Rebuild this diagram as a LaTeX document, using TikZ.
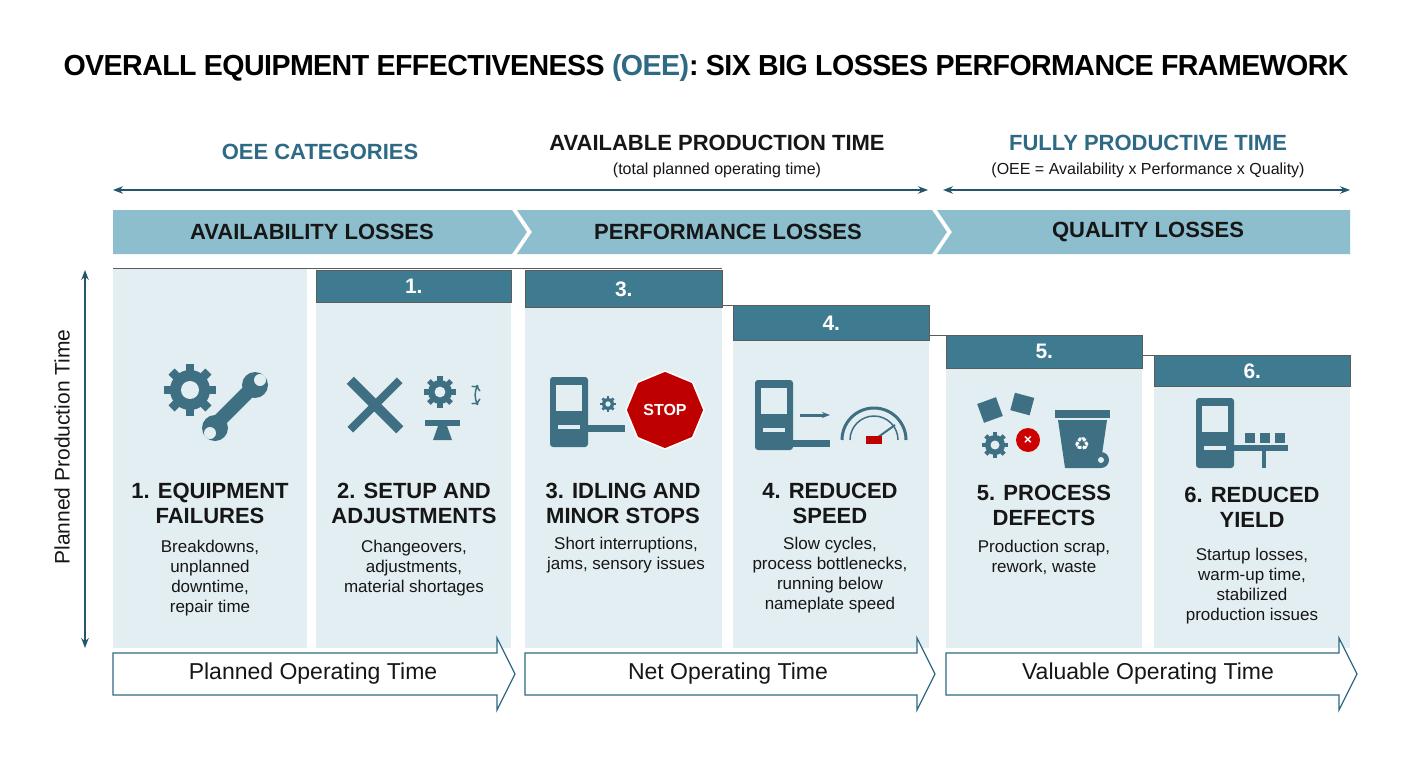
\documentclass[tikz,border=0pt]{standalone}
\usepackage{fontspec}
\setmainfont{Liberation Sans}
\usetikzlibrary{arrows.meta,shapes.geometric,shapes.arrows}
\definecolor{teal}{HTML}{2E6A85}
\definecolor{hdr}{HTML}{3E7A90}
\definecolor{ban}{HTML}{8CBECE}
\definecolor{colbg}{HTML}{E3EEF2}
\definecolor{ico}{HTML}{3F6F82}
\definecolor{txt}{HTML}{161616}
\tikzset{
 col/.style={fill=colbg,draw=none},
 hbox/.style={fill=hdr,draw=txt!70,line width=0.6pt,text=white,font=\bfseries\fontsize{21}{21}\selectfont},
 ttl/.style={align=center,font=\bfseries\fontsize{22}{25}\selectfont,text=txt},
 dsc/.style={align=center,font=\fontsize{17}{20}\selectfont,text=txt},
 bant/.style={font=\bfseries\fontsize{22}{22}\selectfont,text=txt},
 btm/.style={font=\fontsize{23}{23}\selectfont,text=txt},
 pics/gear/.style={code={
   \fill[ico] (0,0) circle (#1);
   \foreach \a in {0,45,...,315}{\fill[ico,rotate=\a] (-0.22*#1,0) rectangle (0.22*#1,1.3*#1);}
   \fill[colbg] (0,0) circle (0.45*#1);}},
 pics/machine/.style={code={
   \fill[ico,rounded corners=3] (0,0) rectangle (38,70);
   \fill[colbg] (6,8) rectangle (32,34);
   \fill[colbg] (8,48) rectangle (30,52);}}
}
\begin{document}
\begin{tikzpicture}[x=1pt,y=-1pt]
\useasboundingbox (0,0) rectangle (1408,768);
\fill[white] (0,0) rectangle (1408,768);
% title
\node (title) at (706,68) {\bfseries\fontsize{29}{29}\selectfont\addfontfeature{LetterSpace=-2}\scalebox{0.985}[1]{OVERALL EQUIPMENT EFFECTIVENESS \textcolor{teal}{(OEE)}: SIX BIG LOSSES PERFORMANCE FRAMEWORK}};
\node[font=\bfseries\fontsize{22}{22}\selectfont,text=teal] (cat) at (320,152) {OEE CATEGORIES};
\node[font=\bfseries\fontsize{22}{22}\selectfont,text=txt] (apt) at (717,143) {AVAILABLE PRODUCTION TIME};
\node[font=\fontsize{16}{16}\selectfont,text=txt] (apt2) at (717,170) {(total planned operating time)};
\node[font=\bfseries\fontsize{22}{22}\selectfont,text=teal] (fpt) at (1148,143) {FULLY PRODUCTIVE TIME};
\node[font=\fontsize{16}{16}\selectfont,text=txt] (fpt2) at (1148,170) {(OEE = Availability x Performance x Quality)};
\coordinate (a1) at (113,190); \coordinate (a2) at (928,190);
\coordinate (a3) at (943,190); \coordinate (a4) at (1350,190);
\draw[teal!80!black,line width=1.2pt,{Stealth[length=10pt]}-{Stealth[length=10pt]}] (a1) -- (a2);
\draw[teal!80!black,line width=1.2pt,{Stealth[length=10pt]}-{Stealth[length=10pt]}] (a3) -- (a4);
% banners
\fill[ban] (113,210) -- (512,210) -- (527,232) -- (512,254) -- (113,254) -- cycle;
\fill[ban] (517,210) -- (932,210) -- (947,232) -- (932,254) -- (517,254) -- (532,232) -- cycle;
\fill[ban] (937,210) -- (1350,210) -- (1350,254) -- (937,254) -- (952,232) -- cycle;
\node[bant] (b1) at (312,232) {AVAILABILITY LOSSES};
\node[bant] (b2) at (728,232) {PERFORMANCE LOSSES};
\node[bant] (b3) at (1148,232) {QUALITY LOSSES};
% columns
\fill[col] (113,268) rectangle (307,648);
\fill[col] (316,302) rectangle (511,648);
\fill[col] (525,307) rectangle (722,648);
\fill[col] (733,340) rectangle (929,648);
\fill[col] (946,368) rectangle (1142,648);
\fill[col] (1154,386) rectangle (1350,648);
\draw[txt!70,line width=0.8pt] (113,268) -- (722,268);
\draw[txt!70,line width=0.8pt] (722,305) -- (733,305);
\draw[txt!70,line width=0.8pt] (929,335) -- (946,335);
\draw[txt!70,line width=0.8pt] (1142,355) -- (1154,355);
\node[hbox,minimum width=195pt,minimum height=32pt,anchor=north west] (h1) at (316,270) {1.};
\node[hbox,minimum width=197pt,minimum height=37pt,anchor=north west] (h3) at (525,270) {3.};
\node[hbox,minimum width=196pt,minimum height=35pt,anchor=north west] (h4) at (733,305) {4.};
\node[hbox,minimum width=196pt,minimum height=33pt,anchor=north west] (h5) at (946,335) {5.};
\node[hbox,minimum width=196pt,minimum height=31pt,anchor=north west] (h6) at (1154,355) {6.};
% icons col1
\pic at (190,390) {gear=20};
\fill[ico,rotate around={-45:(235,405)}] (228,375) rectangle (242,440);
\fill[ico] (255,385) circle (13); \fill[colbg] (260,380) circle (6);
\fill[ico] (215,428) circle (13); \fill[colbg] (210,433) circle (6);
% col2
\fill[ico,rotate around={45:(375,405)}] (370,370) rectangle (380,440);
\fill[ico,rotate around={-45:(375,405)}] (371,370) rectangle (379,440);
\pic at (440,392) {gear=12};
\fill[ico] (425,420) rectangle (460,426); \fill[ico] (438,426) -- (447,426) -- (452,440) -- (433,440) -- cycle;
\draw[ico,line width=1.5pt,<->] (478,405) arc (-30:30:-20);
% col3
\pic at (550,377) {machine};
\fill[ico] (588,425) rectangle (625,432);
\pic at (608,404) {gear=6};
\node[regular polygon,regular polygon sides=8,fill=red!75!black,draw=white,line width=1.5pt,minimum size=62pt,text=white,font=\bfseries\fontsize{16}{16}\selectfont,rotate=22.5] (stop) at (665,410) {\rotatebox{-22.5}{STOP}};
% col4
\pic at (755,380) {machine};
\draw[ico,line width=3pt,-{Stealth[length=8pt]}] (800,415) -- (830,415);
\fill[ico] (793,440) rectangle (830,447);
\draw[ico,line width=3pt] (842,440) arc (180:360:32);
\draw[ico,line width=1.5pt] (850,440) arc (180:360:24);
\draw[ico,line width=2pt] (874,440) -- (895,425);
\fill[red!75!black] (866,436) rectangle (882,444);
% col5
\fill[ico,rotate around={20:(990,410)}] (980,400) rectangle (1000,420);
\fill[ico,rotate around={-15:(1022,405)}] (1012,395) rectangle (1032,413);
\pic at (995,445) {gear=10};
\fill[red!80!black] (1028,440) circle (12);
\node[text=white,font=\bfseries\fontsize{14}{14}\selectfont] (x5) at (1028,440) {×};
\fill[ico] (1055,410) rectangle (1110,418);
\fill[ico] (1058,420) -- (1107,420) -- (1100,468) -- (1065,468) -- cycle;
\node[text=white,font=\fontsize{18}{18}\selectfont] (rec) at (1082,444) {\fontspec{DejaVu Sans}♻};
\fill[ico] (1101,460) circle (8); \fill[colbg] (1101,460) circle (3);
% col6
\pic at (1196,398) {machine};
\fill[ico] (1234,445) rectangle (1288,451);
\fill[ico] (1262,451) rectangle (1266,468);
\foreach \xx in {1245,1260,1275}{\fill[ico] (\xx,433) rectangle (\xx+10,443);}
% texts
\node[ttl] (t1) at (210,503) {1. EQUIPMENT\\FAILURES};
\node[dsc,anchor=north] (d1) at (210,537) {Breakdowns,\\unplanned\\downtime,\\repair time};
\node[ttl] (t2) at (414,503) {2. SETUP AND\\ADJUSTMENTS};
\node[dsc,anchor=north] (d2) at (414,537) {Changeovers,\\adjustments,\\material shortages};
\node[ttl] (t3) at (623,503) {3. IDLING AND\\MINOR STOPS};
\node[dsc,anchor=north] (d3) at (626,534) {Short interruptions,\\jams, sensory issues};
\node[ttl] (t4) at (830,503) {4. REDUCED\\SPEED};
\node[dsc,anchor=north] (d4) at (830,534) {Slow cycles,\\process bottlenecks,\\running below\\nameplate speed};
\node[ttl] (t5) at (1044,505) {5. PROCESS\\DEFECTS};
\node[dsc,anchor=north] (d5) at (1044,537) {Production scrap,\\rework, waste};
\node[ttl] (t6) at (1252,507) {6. REDUCED\\YIELD};
\node[dsc,anchor=north] (d6) at (1252,545) {Startup losses,\\warm-up time,\\stabilized\\production issues};
% vertical arrow
\coordinate (v1) at (85,270); \coordinate (v2) at (85,648);
\draw[teal!80!black,line width=1.5pt,{Stealth[length=10pt]}-{Stealth[length=10pt]}] (v1) -- (v2);
\node[rotate=90,font=\fontsize{21}{21}\selectfont,text=txt] (ppt) at (62,447) {Planned Production Time};
% bottom arrows
\draw[teal,line width=1.2pt,fill=white] (113,653) -- (497,653) -- (497,638) -- (515,674) -- (497,710) -- (497,695) -- (113,695) -- cycle;
\draw[teal,line width=1.2pt,fill=white] (525,653) -- (917,653) -- (917,638) -- (935,674) -- (917,710) -- (917,695) -- (525,695) -- cycle;
\draw[teal,line width=1.2pt,fill=white] (946,653) -- (1339,653) -- (1339,638) -- (1357,674) -- (1339,710) -- (1339,695) -- (946,695) -- cycle;
\node[btm] (p1) at (313,674) {Planned Operating Time};
\node[btm] (p2) at (728,674) {Net Operating Time};
\node[btm] (p3) at (1148,674) {Valuable Operating Time};
\end{tikzpicture}
\end{document}
